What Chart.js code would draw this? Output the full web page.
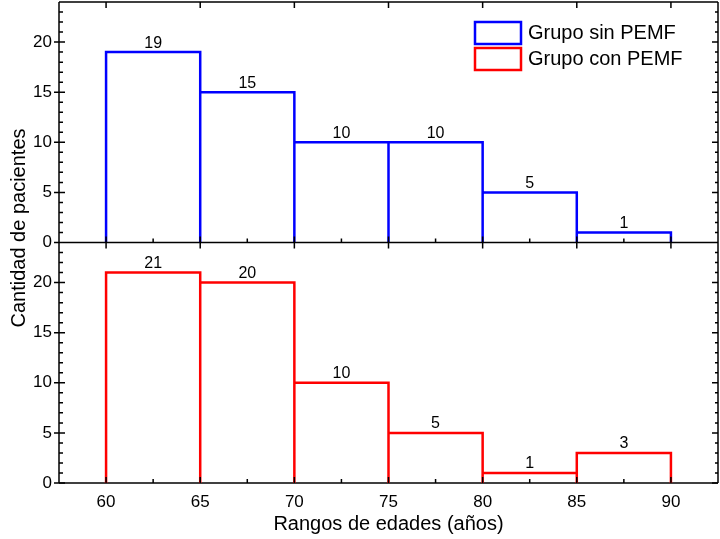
<!DOCTYPE html>
<html>
<head>
<meta charset="utf-8">
<title>Rangos de edades</title>
<script src="https://cdn.jsdelivr.net/npm/chart.js@4.4.1/dist/chart.umd.min.js"></script>
<style>
  html, body { margin: 0; padding: 0; background: #fff; }
  #wrap { width: 720px; height: 539px; }
</style>
</head>
<body>
<div id="wrap"><canvas id="histChart" width="720" height="539"></canvas></div>
<script>
// histogram data (bin edges in years, counts per bin)
const binEdges = [60, 65, 70, 75, 80, 85, 90];
const sinPemfCounts = [19, 15, 10, 10, 5, 1];
const conPemfCounts = [21, 20, 10, 5, 1, 3];
const seriesNames = ['Grupo sin PEMF', 'Grupo con PEMF'];
const seriesColors = ['#0000ff', '#ff0000'];
const xTickValues = [60, 65, 70, 75, 80, 85, 90];
const yTickValues = [0, 5, 10, 15, 20];

const FONT = "'Liberation Sans', Arial, sans-serif";

// build the outline of every bin: up, across, down
function outline(counts) {
  const pts = [];
  counts.forEach((c, i) => {
    pts.push({x: binEdges[i], y: 0});
    pts.push({x: binEdges[i], y: c});
    pts.push({x: binEdges[i + 1], y: c});
    pts.push({x: binEdges[i + 1], y: 0});
  });
  return pts;
}

// frame of both panels, inward ticks, minor ticks
const frameTicks = {
  id: 'frameTicks',
  beforeDatasetsDraw(chart) {
    const {ctx, chartArea: a} = chart;
    ctx.save();
    ctx.strokeStyle = '#000';
    ctx.lineWidth = 1.5;
    ctx.beginPath();
    ctx.moveTo(a.left, a.bottom);
    ctx.lineTo(a.right, a.bottom);
    ctx.stroke();
    ctx.restore();
  },
  afterDatasetsDraw(chart) {
    const {ctx, chartArea: a} = chart;
    const xs = chart.scales.x;
    ctx.save();
    ctx.strokeStyle = '#000';
    ctx.lineWidth = 1.5;
    ctx.beginPath();
    ['yTop', 'yBottom'].forEach(id => {
      const s = chart.scales[id];
      // left / right / top border
      ctx.moveTo(a.left, s.top); ctx.lineTo(a.left, s.bottom);
      ctx.moveTo(a.right, s.top); ctx.lineTo(a.right, s.bottom);
      ctx.moveTo(a.left, s.top); ctx.lineTo(a.right, s.top);
      for (let v = 0; v <= s.max; v++) {
        const py = s.getPixelForValue(v);
        const major = yTickValues.includes(v);
        ctx.moveTo(a.left - (major ? 5 : 0), py);
        ctx.lineTo(a.left + (major ? 6 : 4), py);
        ctx.moveTo(a.right, py);
        ctx.lineTo(a.right - (major ? 6 : 3), py);
      }
      // x ticks at top (down) and bottom (up) of each panel
      for (let v = 57.5; v <= 92.5; v += 2.5) {
        const px = xs.getPixelForValue(v);
        const major = xTickValues.includes(v);
        if (major) {
          ctx.moveTo(px, s.top); ctx.lineTo(px, s.top + 6);
        }
        ctx.moveTo(px, s.bottom); ctx.lineTo(px, s.bottom - (major ? 6 : 4));
      }
    });
    // separator between panels over the top bars
    const mid = chart.scales.yTop.bottom;
    ctx.moveTo(a.left, mid); ctx.lineTo(a.right, mid);
    ctx.stroke();

    // value labels above the bars
    ctx.fillStyle = '#000';
    ctx.font = '16px ' + FONT;
    ctx.textAlign = 'center';
    ctx.textBaseline = 'bottom';
    [[sinPemfCounts, 'yTop'], [conPemfCounts, 'yBottom']].forEach(([counts, id]) => {
      const s = chart.scales[id];
      counts.forEach((c, i) => {
        const px = xs.getPixelForValue((binEdges[i] + binEdges[i + 1]) / 2);
        ctx.fillText(String(c), px, s.getPixelForValue(c) - 1);
      });
    });

    // legend
    ctx.lineWidth = 2.5;
    ctx.font = '20px ' + FONT;
    ctx.textAlign = 'left';
    ctx.textBaseline = 'middle';
    seriesNames.forEach((name, i) => {
      const top = 22 + i * 26;
      ctx.strokeStyle = seriesColors[i];
      ctx.strokeRect(475, top, 46, 22);
      ctx.fillText(name, 528, top + 11);
    });

    // shared y title
    ctx.translate(19, 228);
    ctx.rotate(-Math.PI / 2);
    ctx.textAlign = 'center';
    ctx.fillText('Cantidad de pacientes', 0, 0);
    ctx.restore();
  }
};

const yAxis = () => ({
  type: 'linear',
  position: 'left',
  stack: 'panels',
  stackWeight: 1,
  min: 0,
  max: 24,
  grid: {display: false, drawTicks: false},
  border: {display: false},
  ticks: {color: '#000', font: {family: FONT, size: 17}, padding: 7},
  afterBuildTicks: axis => { axis.ticks = yTickValues.map(v => ({value: v})); },
  afterFit: axis => { axis.width = 59; axis.paddingTop = 0; axis.paddingBottom = 0; }
});

new Chart(document.getElementById('histChart'), {
  type: 'scatter',
  data: {
    datasets: [
      {label: seriesNames[0], data: outline(sinPemfCounts), yAxisID: 'yTop',
       borderColor: seriesColors[0], borderWidth: 2.5, showLine: true,
       pointRadius: 0, fill: false, clip: false, borderJoinStyle: 'miter'},
      {label: seriesNames[1], data: outline(conPemfCounts), yAxisID: 'yBottom',
       borderColor: seriesColors[1], borderWidth: 2.5, showLine: true,
       pointRadius: 0, fill: false, clip: false, borderJoinStyle: 'miter'}
    ]
  },
  options: {
    responsive: false,
    animation: false,
    events: [],
    layout: {padding: {top: 2, right: 2, left: 0, bottom: 0}},
    plugins: {legend: {display: false}, tooltip: {enabled: false}},
    scales: {
      // listed bottom first: the later stacked axis is laid out on top
      yBottom: yAxis(),
      yTop: yAxis(),
      x: {
        type: 'linear',
        position: 'bottom',
        min: 57.5,
        max: 92.5,
        grid: {display: false, drawTicks: false},
        border: {display: false},
        ticks: {color: '#000', font: {family: FONT, size: 17}, padding: 9},
        afterBuildTicks: axis => { axis.ticks = xTickValues.map(v => ({value: v})); },
        afterFit: axis => { axis.height = 56; axis.paddingLeft = 0; axis.paddingRight = 0; },
        title: {display: true, text: 'Rangos de edades (años)', color: '#000',
                font: {family: FONT, size: 20}, padding: {top: 0, bottom: 3}}
      }
    }
  },
  plugins: [frameTicks]
});
</script>
</body>
</html>
